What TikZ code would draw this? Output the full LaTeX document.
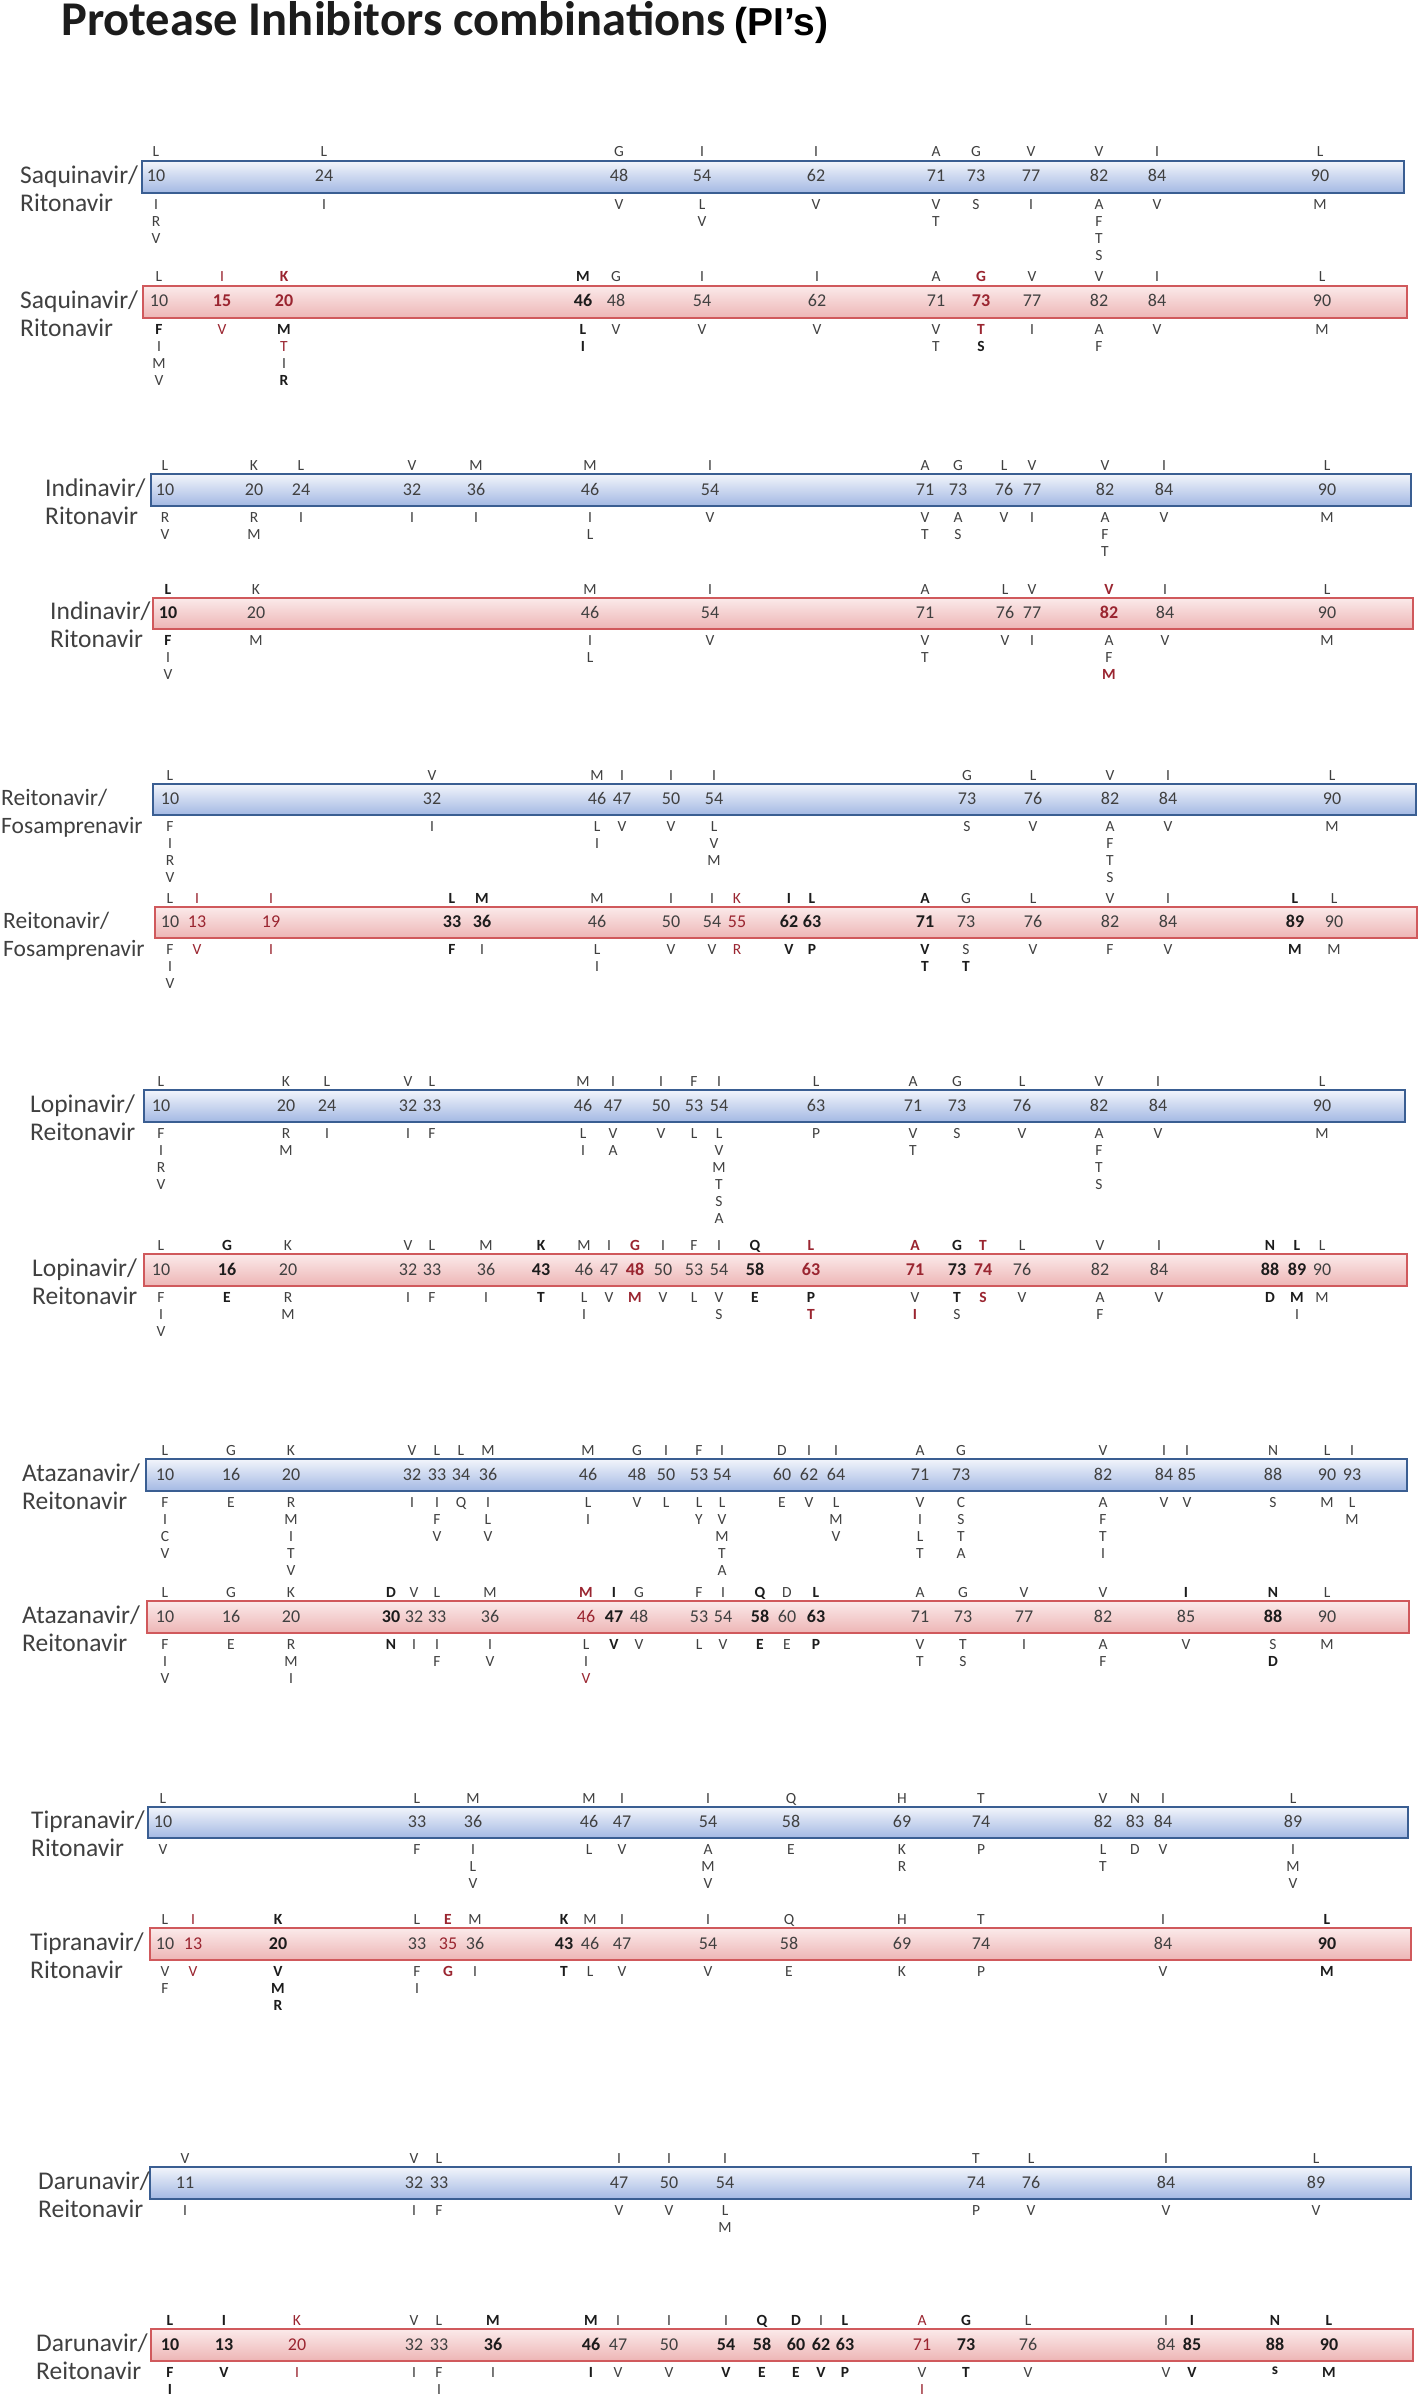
\documentclass[tikz,border=0pt]{standalone}
\usepackage{fontspec}
\setmainfont{Carlito}
\newfontfamily\arialfont{Liberation Sans}
\usetikzlibrary{positioning}
\definecolor{PIText}{HTML}{404040}
\definecolor{PIDark}{HTML}{1C1C1C}
\definecolor{PIRed}{HTML}{9A2530}
\definecolor{PIBlueLine}{HTML}{3A5E92}
\definecolor{PIBlueTop}{HTML}{F2F5FB}
\definecolor{PIBlueBot}{HTML}{A3B8E3}
\definecolor{PIRedLine}{HTML}{D0595C}
\definecolor{PIRedTop}{HTML}{FBEAEA}
\definecolor{PIRedBot}{HTML}{EDB5B5}
% text colours for changed residues
\newcommand\rd[1]{{\color{PIRed}#1}}
\newcommand\rb[1]{{\color{PIRed}\bfseries#1}}
\newcommand\bd[1]{{\color{PIDark}\bfseries#1}}
\tikzset{
    % Bar styles
    bluebar/.style={
        rectangle,
        draw=PIBlueLine,
        line width=2pt,
        top color=PIBlueTop,
        bottom color=PIBlueBot,
        inner sep=0pt,
        anchor=north west
    },
    redbar/.style={
        rectangle,
        draw=PIRedLine,
        line width=2pt,
        top color=PIRedTop,
        bottom color=PIRedBot,
        inner sep=0pt,
        anchor=north west
    },
    % Text styles
    druglabel/.style={
        anchor=mid west,
        inner sep=0pt,
        text=PIText,
        font=\fontsize{25.5}{28}\selectfont
    },
    uptext/.style={
        anchor=base,
        inner sep=0pt,
        text=PIText,
        font=\fontsize{15.5}{17}\selectfont
    },
    numtext/.style={
        anchor=base,
        inner sep=0pt,
        text=PIText,
        font=\fontsize{18}{20}\selectfont
    },
    lowtext/.style={
        anchor=north,
        inner sep=0pt,
        align=center,
        text=PIText,
        font=\fontsize{15.5}{17}\selectfont
    }
}
% bar: name, style, left, right, top, bottom
\newcommand\pibar[6]{%
    \def\bartop{#5}\def\barbot{#6}%
    \pgfmathsetmacro\barmid{(#5+#6)/2}%
    \node[#2, minimum width={(#4-#3)*1pt}, minimum height={(#6-#5)*1pt}] (#1) at (#3,#5) {};
}
% two line drug label: name, x, first line, second line
\newcommand\pilabel[5][]{%
    \node[druglabel, #1] (#2a) at ({#3},{\barmid+5}) {#4};
    \node[druglabel, #1] (#2b) at ({#3},{\barmid+33}) {#5};
}
% one position: x, wild type, number, mutations
\newcount\sitenum
\newcommand\site[4]{%
    \global\advance\sitenum by 1
    \node[uptext] (up\the\sitenum) at ({#1},{\bartop-3}) {#2};
    \node[numtext] (num\the\sitenum) at ({#1},{\barmid+6}) {#3};
    \node[lowtext] (low\the\sitenum) at ({#1},{\barbot+7}) {#4};
}
\begin{document}
\begin{tikzpicture}[x=1pt, y=-1pt]
    \path[fill=white] (0,0) rectangle (1418,2397);
    \useasboundingbox (0,0) rectangle (1418,2397);

    % Title
    \node[anchor=base west, inner sep=0pt, text=PIDark, font=\fontsize{48.5}{50}\selectfont\bfseries] (title) at (61,36) {Protease Inhibitors combinations};
    \node[anchor=base west, inner sep=0pt, text=black, font=\arialfont\fontsize{39}{42}\selectfont\bfseries] (pis) at (734,36) {(PI’s)};

    % Saquinavir / Ritonavir
    \pibar{sqvA}{bluebar}{141}{1403}{160}{192}
    \pilabel{sqvA}{20}{Saquinavir/}{Ritonavir}
    \site{156}{L}{10}{I\\R\\V}
    \site{324}{L}{24}{I}
    \site{619}{G}{48}{V}
    \site{702}{I}{54}{L\\V}
    \site{816}{I}{62}{V}
    \site{936}{A}{71}{V\\T}
    \site{976}{G}{73}{S}
    \site{1031}{V}{77}{I}
    \site{1099}{V}{82}{A\\F\\T\\S}
    \site{1157}{I}{84}{V}
    \site{1320}{L}{90}{M}

    \pibar{sqvB}{redbar}{142}{1406}{285}{317}
    \pilabel{sqvB}{20}{Saquinavir/}{Ritonavir}
    \site{159}{L}{10}{\bd{F}\\I\\M\\V}
    \site{222}{\rd{I}}{\rb{15}}{\rd{V}}
    \site{284}{\rb{K}}{\rb{20}}{\bd{M}\\\rd{T}\\I\\\bd{R}}
    \site{583}{\bd{M}}{\bd{46}}{\bd{L}\\\bd{I}}
    \site{616}{G}{48}{V}
    \site{702}{I}{54}{V}
    \site{817}{I}{62}{V}
    \site{936}{A}{71}{V\\T}
    \site{981}{\rb{G}}{\rb{73}}{\rb{T}\\\bd{S}}
    \site{1032}{V}{77}{I}
    \site{1099}{V}{82}{A\\F}
    \site{1157}{I}{84}{V}
    \site{1322}{L}{90}{M}

    % Indinavir / Ritonavir
    \pibar{idvA}{bluebar}{150}{1410}{473}{505}
    \pilabel{idvA}{45}{Indinavir/}{Ritonavir}
    \site{165}{L}{10}{R\\V}
    \site{254}{K}{20}{R\\M}
    \site{301}{L}{24}{I}
    \site{412}{V}{32}{I}
    \site{476}{M}{36}{I}
    \site{590}{M}{46}{I\\L}
    \site{710}{I}{54}{V}
    \site{925}{A}{71}{V\\T}
    \site{958}{G}{73}{A\\S}
    \site{1004}{L}{76}{V}
    \site{1032}{V}{77}{I}
    \site{1105}{V}{82}{A\\F\\T}
    \site{1164}{I}{84}{V}
    \site{1327}{L}{90}{M}

    \pibar{idvB}{redbar}{152}{1412}{597}{628}
    \pilabel{idvB}{50}{Indinavir/}{Ritonavir}
    \site{168}{\bd{L}}{\bd{10}}{\bd{F}\\I\\V}
    \site{256}{K}{20}{M}
    \site{590}{M}{46}{I\\L}
    \site{710}{I}{54}{V}
    \site{925}{A}{71}{V\\T}
    \site{1005}{L}{76}{V}
    \site{1032}{V}{77}{I}
    \site{1109}{\rb{V}}{\rb{82}}{A\\F\\\rb{M}}
    \site{1165}{I}{84}{V}
    \site{1327}{L}{90}{M}

    % Reitonavir / Fosamprenavir
    \pibar{fpvA}{bluebar}{152}{1415}{783}{814}
    \pilabel[font=\fontsize{23.5}{26}\selectfont]{fpvA}{1}{Reitonavir/}{Fosamprenavir}
    \site{170}{L}{10}{F\\I\\R\\V}
    \site{432}{V}{32}{I}
    \site{597}{M}{46}{L\\I}
    \site{622}{I}{47}{V}
    \site{671}{I}{50}{V}
    \site{714}{I}{54}{L\\V\\M}
    \site{967}{G}{73}{S}
    \site{1033}{L}{76}{V}
    \site{1110}{V}{82}{A\\F\\T\\S}
    \site{1168}{I}{84}{V}
    \site{1332}{L}{90}{M}

    \pibar{fpvB}{redbar}{154}{1416}{906}{937}
    \pilabel[font=\fontsize{23.5}{26}\selectfont]{fpvB}{3}{Reitonavir/}{Fosamprenavir}
    \site{170}{L}{10}{F\\I\\V}
    \site{197}{\rd{I}}{\rd{13}}{\rd{V}}
    \site{271}{\rd{I}}{\rd{19}}{\rd{I}}
    \site{452}{\bd{L}}{\bd{33}}{\bd{F}}
    \site{482}{\bd{M}}{\bd{36}}{I}
    \site{597}{M}{46}{L\\I}
    \site{671}{I}{50}{V}
    \site{712}{I}{54}{V}
    \site{737}{\rd{K}}{\rd{55}}{\rd{R}}
    \site{789}{\bd{I}}{\bd{62}}{\bd{V}}
    \site{812}{\bd{L}}{\bd{63}}{\bd{P}}
    \site{925}{\bd{A}}{\bd{71}}{\bd{V}\\\bd{T}}
    \site{966}{G}{73}{S\\\bd{T}}
    \site{1033}{L}{76}{V}
    \site{1110}{V}{82}{F}
    \site{1168}{I}{84}{V}
    \site{1295}{\bd{L}}{\bd{89}}{\bd{M}}
    \site{1334}{L}{90}{M}

    % Lopinavir / Reitonavir
    \pibar{lpvA}{bluebar}{143}{1404}{1089}{1121}
    \pilabel{lpvA}{30}{Lopinavir/}{Reitonavir}
    \site{161}{L}{10}{F\\I\\R\\V}
    \site{286}{K}{20}{R\\M}
    \site{327}{L}{24}{I}
    \site{408}{V}{32}{I}
    \site{432}{L}{33}{F}
    \site{583}{M}{46}{L\\I}
    \site{613}{I}{47}{V\\A}
    \site{661}{I}{50}{V}
    \site{694}{F}{53}{L}
    \site{719}{I}{54}{L\\V\\M\\T\\S\\A}
    \site{816}{L}{63}{P}
    \site{913}{A}{71}{V\\T}
    \site{957}{G}{73}{S}
    \site{1022}{L}{76}{V}
    \site{1099}{V}{82}{A\\F\\T\\S}
    \site{1158}{I}{84}{V}
    \site{1322}{L}{90}{M}

    \pibar{lpvB}{redbar}{143}{1406}{1253}{1285}
    \pilabel{lpvB}{32}{Lopinavir/}{Reitonavir}
    \site{161}{L}{10}{F\\I\\V}
    \site{227}{\bd{G}}{\bd{16}}{\bd{E}}
    \site{288}{K}{20}{R\\M}
    \site{408}{V}{32}{I}
    \site{432}{L}{33}{F}
    \site{486}{M}{36}{I}
    \site{541}{\bd{K}}{\bd{43}}{\bd{T}}
    \site{584}{M}{46}{L\\I}
    \site{609}{I}{47}{V}
    \site{635}{\rb{G}}{\rb{48}}{\rb{M}}
    \site{663}{I}{50}{V}
    \site{694}{F}{53}{L}
    \site{719}{I}{54}{V\\S}
    \site{755}{\bd{Q}}{\bd{58}}{\bd{E}}
    \site{811}{\rb{L}}{\rb{63}}{\bd{P}\\\rb{T}}
    \site{915}{\rb{A}}{\rb{71}}{V\\\rb{I}}
    \site{957}{\bd{G}}{\bd{73}}{\bd{T}\\S}
    \site{983}{\rb{T}}{\rb{74}}{\rb{S}}
    \site{1022}{L}{76}{V}
    \site{1100}{V}{82}{A\\F}
    \site{1159}{I}{84}{V}
    \site{1270}{\bd{N}}{\bd{88}}{\bd{D}}
    \site{1297}{\bd{L}}{\bd{89}}{\bd{M}\\I}
    \site{1322}{L}{90}{M}

    % Atazanavir / Reitonavir
    \pibar{atvA}{bluebar}{145}{1406}{1458}{1490}
    \pilabel{atvA}{22}{Atazanavir/}{Reitonavir}
    \site{165}{L}{10}{F\\I\\C\\V}
    \site{231}{G}{16}{E}
    \site{291}{K}{20}{R\\M\\I\\T\\V}
    \site{412}{V}{32}{I}
    \site{437}{L}{33}{I\\F\\V}
    \site{461}{L}{34}{Q}
    \site{488}{M}{36}{I\\L\\V}
    \site{588}{M}{46}{L\\I}
    \site{637}{G}{48}{V}
    \site{666}{I}{50}{L}
    \site{699}{F}{53}{L\\Y}
    \site{722}{I}{54}{L\\V\\M\\T\\A}
    \site{782}{D}{60}{E}
    \site{809}{I}{62}{V}
    \site{836}{I}{64}{L\\M\\V}
    \site{920}{A}{71}{V\\I\\L\\T}
    \site{961}{G}{73}{C\\S\\T\\A}
    \site{1103}{V}{82}{A\\F\\T\\I}
    \site{1164}{I}{84}{V}
    \site{1187}{I}{85}{V}
    \site{1273}{N}{88}{S}
    \site{1327}{L}{90}{M}
    \site{1352}{I}{93}{L\\M}

    \pibar{atvB}{redbar}{146}{1408}{1600}{1632}
    \pilabel{atvB}{22}{Atazanavir/}{Reitonavir}
    \site{165}{L}{10}{F\\I\\V}
    \site{231}{G}{16}{E}
    \site{291}{K}{20}{R\\M\\I}
    \site{391}{\bd{D}}{\bd{30}}{\bd{N}}
    \site{414}{V}{32}{I}
    \site{437}{L}{33}{I\\F}
    \site{490}{M}{36}{I\\V}
    \site{586}{\rb{M}}{\rd{46}}{L\\I\\\rd{V}}
    \site{614}{\bd{I}}{\bd{47}}{\bd{V}}
    \site{639}{G}{48}{V}
    \site{699}{F}{53}{L}
    \site{723}{I}{54}{V}
    \site{760}{\bd{Q}}{\bd{58}}{\bd{E}}
    \site{787}{D}{60}{E}
    \site{816}{\bd{L}}{\bd{63}}{\bd{P}}
    \site{920}{A}{71}{V\\T}
    \site{963}{G}{73}{T\\S}
    \site{1024}{V}{77}{I}
    \site{1103}{V}{82}{A\\F}
    \site{1186}{\bd{I}}{85}{V}
    \site{1273}{\bd{N}}{\bd{88}}{S\\\bd{D}}
    \site{1327}{L}{90}{M}

    % Tipranavir / Ritonavir
    \pibar{tpvA}{bluebar}{147}{1407}{1806}{1837}
    \pilabel{tpvA}{31}{Tipranavir/}{Ritonavir}
    \site{163}{L}{10}{V}
    \site{417}{L}{33}{F}
    \site{473}{M}{36}{I\\L\\V}
    \site{589}{M}{46}{L}
    \site{622}{I}{47}{V}
    \site{708}{I}{54}{A\\M\\V}
    \site{791}{Q}{58}{E}
    \site{902}{H}{69}{K\\R}
    \site{981}{T}{74}{P}
    \site{1103}{V}{82}{L\\T}
    \site{1135}{N}{83}{D}
    \site{1163}{I}{84}{V}
    \site{1293}{L}{89}{I\\M\\V}

    \pibar{tpvB}{redbar}{149}{1410}{1927}{1959}
    \pilabel{tpvB}{30}{Tipranavir/}{Ritonavir}
    \site{165}{L}{10}{V\\F}
    \site{193}{\rd{I}}{\rd{13}}{\rd{V}}
    \site{278}{\bd{K}}{\bd{20}}{\bd{V}\\\bd{M}\\\bd{R}}
    \site{417}{L}{33}{F\\I}
    \site{448}{\rb{E}}{\rd{35}}{\rb{G}}
    \site{475}{M}{36}{I}
    \site{564}{\bd{K}}{\bd{43}}{\bd{T}}
    \site{590}{M}{46}{L}
    \site{622}{I}{47}{V}
    \site{708}{I}{54}{V}
    \site{789}{Q}{58}{E}
    \site{902}{H}{69}{K}
    \site{981}{T}{74}{P}
    \site{1163}{I}{84}{V}
    \site{1327}{\bd{L}}{\bd{90}}{\bd{M}}

    % Darunavir / Reitonavir
    \pibar{drvA}{bluebar}{149}{1410}{2166}{2198}
    \pilabel{drvA}{38}{Darunavir/}{Reitonavir}
    \site{185}{V}{11}{I}
    \site{414}{V}{32}{I}
    \site{439}{L}{33}{F}
    \site{619}{I}{47}{V}
    \site{669}{I}{50}{V}
    \site{725}{I}{54}{L\\M}
    \site{976}{T}{74}{P}
    \site{1031}{L}{76}{V}
    \site{1166}{I}{84}{V}
    \site{1316}{L}{89}{V}

    \pibar{drvB}{redbar}{150}{1412}{2328}{2360}
    \pilabel{drvB}{36}{Darunavir/}{Reitonavir}
    \site{170}{\bd{L}}{\bd{10}}{\bd{F}\\\bd{I}}
    \site{224}{\bd{I}}{\bd{13}}{\bd{V}}
    \site{297}{\rd{K}}{\rd{20}}{\rd{I}}
    \site{414}{V}{32}{I}
    \site{439}{L}{33}{F\\I}
    \site{493}{\bd{M}}{\bd{36}}{I}
    \site{591}{\bd{M}}{\bd{46}}{\bd{I}}
    \site{618}{I}{47}{V}
    \site{669}{I}{50}{V}
    \site{726}{I}{\bd{54}}{\bd{V}}
    \site{762}{\bd{Q}}{\bd{58}}{\bd{E}}
    \site{796}{\bd{D}}{\bd{60}}{\bd{E}}
    \site{821}{I}{\bd{62}}{\bd{V}}
    \site{845}{\bd{L}}{\bd{63}}{\bd{P}}
    \site{922}{\rd{A}}{\rd{71}}{V\\\rd{I}}
    \site{966}{\bd{G}}{\bd{73}}{\bd{T}}
    \site{1028}{L}{76}{V}
    \site{1166}{I}{84}{V}
    \site{1192}{\bd{I}}{\bd{85}}{\bd{V}}
    \site{1275}{\bd{N}}{\bd{88}}{\bd{s}}
    \site{1329}{\bd{L}}{\bd{90}}{\bd{M}}
\end{tikzpicture}
\end{document}
